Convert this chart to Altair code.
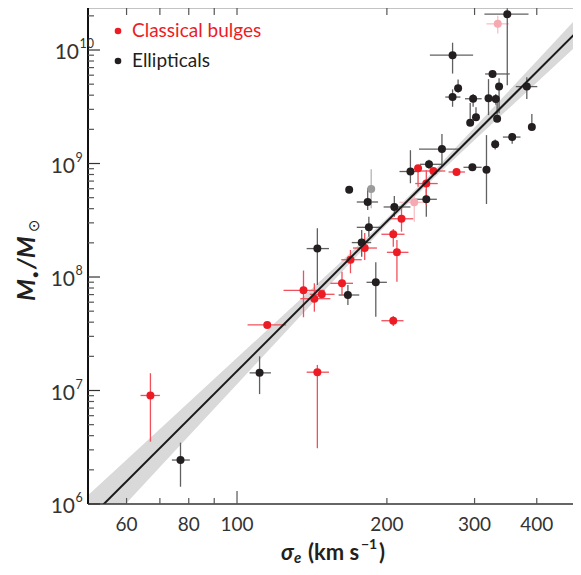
import math
import altair as alt
import pandas as pd

# ---------------- data ----------------
# group: B = classical bulge, E = elliptical, Bo / Eo = lighter (omitted) points
group = ["E", "E", "E", "E", "E", "E", "E", "E", "E", "E",
         "E", "E", "E", "E", "E", "E", "E", "E", "E", "E",
         "E", "E", "Eo", "E", "E", "E", "E", "E", "E", "E",
         "E", "E", "E",
         "Bo", "B", "B", "B", "B", "Bo", "B", "B", "B", "B",
         "B", "B", "B", "B", "B", "B", "B", "B", "B"]
sigma = [349, 271, 326, 278, 271, 298, 320, 331, 336, 382,
         302, 294, 333, 391, 357, 330, 258, 243, 297, 317,
         223, 168, 186, 183, 240, 207, 184, 178, 145, 167,
         190, 111, 77,
         334, 231, 248, 276, 240, 227, 214, 206, 209.5, 180.5,
         169, 162.5, 136, 143, 148, 206, 145, 115, 67]
sigma_lo = [314, 244, 315, 278, 262, 287, 320, 331, 336, 363,
            302, 294, 333, 391, 342, 325, 232, 233, 285, 317,
            212, 168, 186, 174, 228, 197, 174, 170, 138, 160,
            182, 106, 74,
            317, 231, 233, 266, 228, 212, 203, 195, 200, 171,
            162, 154, 124, 134, 140, 195, 138, 105, 64]
sigma_hi = [385, 298, 353, 278, 281, 310, 320, 331, 336, 401,
            302, 294, 333, 391, 371, 336, 280, 258, 310, 317,
            232, 168, 186, 192, 252, 223, 194, 186, 153, 176,
            200, 117, 80.4,
            352, 231, 262, 287, 253, 242, 226, 217, 221, 191,
            178, 171, 150, 154, 157, 216, 153, 125.5, 70]
mass = [2.07e10, 9.0e9, 6.15e9, 4.6e9, 3.85e9, 3.72e9, 3.75e9, 3.7e9, 4.76e9, 4.76e9,
        2.55e9, 2.29e9, 2.48e9, 2.10e9, 1.71e9, 1.48e9, 1.34e9, 9.84e8, 9.26e8, 8.82e8,
        8.5e8, 5.88e8, 5.96e8, 4.58e8, 4.84e8, 4.14e8, 2.74e8, 2.01e8, 1.78e8, 6.94e7,
        8.98e7, 1.43e7, 2.44e6,
        1.70e10, 9.07e8, 8.59e8, 8.42e8, 6.66e8, 4.55e8, 3.26e8, 2.38e8, 1.65e8, 1.80e8,
        1.42e8, 8.8e7, 7.63e7, 6.44e7, 7.04e7, 4.12e7, 1.45e7, 3.78e7, 9.04e6]
mass_lo = [4.9e9, 6.2e9, 6.15e9, 4.2e9, 3.16e9, 3.16e9, 2.67e9, 3.3e9, 2.77e9, 3.7e9,
           2.4e9, 2.2e9, 2.35e9, 2.0e9, 1.49e9, 1.33e9, 9.5e8, 9.0e8, 9.26e8, 4.4e8,
           6.7e8, 5.88e8, 4.03e8, 3.89e8, 3.4e8, 3.4e8, 2.26e8, 1.51e8, 8.5e7, 5.67e7,
           4.47e7, 9.3e6, 1.42e6,
           1.40e10, 6.25e8, 8.59e8, 8.42e8, 4.3e8, 3.07e8, 2.51e8, 1.85e8, 9.1e7, 1.41e8,
           1.08e8, 6.94e7, 4.42e7, 4.95e7, 7.04e7, 3.7e7, 3.1e6, 3.78e7, 3.54e6]
mass_hi = [3.2e10, 1.16e10, 6.15e9, 5.5e9, 4.5e9, 4.1e9, 5.54e9, 4.1e9, 5.63e9, 5.74e9,
           3.13e9, 3.41e9, 3.7e9, 2.73e9, 1.85e9, 1.63e9, 1.82e9, 1.08e9, 9.26e8, 1.78e9,
           1.31e9, 5.88e8, 8.9e8, 6.05e8, 5.93e8, 5.17e8, 3.4e8, 2.6e8, 2.69e8, 8.5e7,
           1.35e8, 2.0e7, 3.47e6,
           2.0e10, 9.07e8, 8.59e8, 8.42e8, 8.7e8, 5.46e8, 4.03e8, 2.65e8, 2.12e8, 2.44e8,
           1.73e8, 1.11e8, 1.14e8, 8.8e7, 7.04e7, 4.53e7, 1.68e7, 3.78e7, 1.42e7]

# fit: log M = fit_logM_200 + fit_slope * log(sigma/200)
fit_logM_200 = 8.49
fit_slope = 4.38
band_sigma = [50, 60, 75, 100, 130, 160, 200, 250, 300, 400, 491]
band_half_dex = [0.217, 0.190, 0.158, 0.116, 0.078, 0.050, 0.027, 0.033, 0.055, 0.095, 0.124]

legend_labels = ["Classical bulges", "Ellipticals"]

x_label_values = [60, 80, 100, 200, 300, 400]
x_label_text = ["60", "80", "100", "200", "300", "400"]
x_tick_long = [100]
x_tick_short = [60, 70, 80, 90, 200, 300, 400]
x_tick_top = [60, 70, 80, 90, 100, 200, 300, 400]
y_label_values = [1e6, 1e7, 1e8, 1e9, 1e10]
y_label_base = ["10", "10", "10", "10", "10"]
y_label_exp = ["6", "7", "8", "9", "10"]
y_minor_ticks = [k * 10 ** d for d in range(6, 10) for k in range(2, 10)] + [2e10]

# ---------------- styling ----------------
W, H = 493, 496
FONT = "Lato"
X_DOM = [50.2, 490.8]
Y_DOM = [1e6, 2.345e10]
xs = alt.Scale(type="log", domain=X_DOM)
ys = alt.Scale(type="log", domain=Y_DOM)
TXT = "#333333"

point_color = {"B": "#ed1c24", "E": "#231f20", "Bo": "#f6a9b0", "Eo": "#9b9b9b"}
bar_color = {"B": "#f0505c", "E": "#606060", "Bo": "#f8c0c6", "Eo": "#b5b5b5"}

pts = pd.DataFrame({
    "group": group, "sigma": sigma, "sigma_lo": sigma_lo, "sigma_hi": sigma_hi,
    "M": mass, "M_lo": mass_lo, "M_hi": mass_hi,
})
pts["pcolor"] = pts["group"].map(point_color)
pts["ecolor"] = pts["group"].map(bar_color)

line_df = pd.DataFrame({"sigma": X_DOM})
line_df["M"] = [10 ** (fit_logM_200 + fit_slope * math.log10(s / 200.0)) for s in X_DOM]

band_df = pd.DataFrame({"sigma": band_sigma, "h": band_half_dex})
band_df["c"] = [fit_logM_200 + fit_slope * math.log10(s / 200.0) for s in band_sigma]
band_df["lo"] = 10 ** (band_df["c"] - band_df["h"])
band_df["hi"] = 10 ** (band_df["c"] + band_df["h"])

X = lambda f: alt.X(f, scale=xs, axis=None)
Y = lambda f: alt.Y(f, scale=ys, axis=None)

band = alt.Chart(band_df).mark_area(color="#d9d9d9", clip=True).encode(
    x=X("sigma:Q"), y=Y("lo:Q"), y2="hi:Q")

xerr = alt.Chart(pts).mark_rule(strokeWidth=1.3, clip=True).encode(
    x=X("sigma_lo:Q"), x2="sigma_hi:Q", y=Y("M:Q"),
    color=alt.Color("ecolor:N", scale=None))
yerr = alt.Chart(pts).mark_rule(strokeWidth=1.3, clip=True).encode(
    x=X("sigma:Q"), y=Y("M_lo:Q"), y2="M_hi:Q",
    color=alt.Color("ecolor:N", scale=None))
points = alt.Chart(pts).mark_circle(size=64, opacity=1, clip=True).encode(
    x=X("sigma:Q"), y=Y("M:Q"), color=alt.Color("pcolor:N", scale=None))
fit_line = alt.Chart(line_df).mark_line(color="#1a1a1a", strokeWidth=2, clip=True).encode(
    x=X("sigma:Q"), y=Y("M:Q"))

TICK = "#555555"
def xticks(vals, y0, y1):
    return alt.Chart(pd.DataFrame({"v": vals})).mark_rule(color=TICK, strokeWidth=1.2).encode(
        x=X("v:Q"), y=alt.value(y0), y2=alt.value(y1))

def yticks(vals, x0, x1, color=TICK):
    return alt.Chart(pd.DataFrame({"v": vals})).mark_rule(color=color, strokeWidth=1.2).encode(
        y=Y("v:Q"), x=alt.value(x0), x2=alt.value(x1))

one = pd.DataFrame({"a": [0]})
frame = [
    alt.Chart(one).mark_rule(color="#888888", strokeWidth=1.2).encode(
        x=alt.value(0), x2=alt.value(W), y=alt.value(0)),
    alt.Chart(one).mark_rule(color="#333333", strokeWidth=1.6).encode(
        x=alt.value(0), x2=alt.value(W), y=alt.value(H)),
    alt.Chart(one).mark_rule(color="#111111", strokeWidth=2).encode(
        x=alt.value(0), y=alt.value(0), y2=alt.value(H)),
]

ticks = [
    xticks(x_tick_long, H, H - 13),
    xticks(x_tick_short, H, H - 6),
    xticks(x_tick_top, 0, 7),
    yticks(y_label_values, 0, 12, "#333333"),
    yticks(y_minor_ticks, 0, 6),
    yticks(y_label_values, W - 8, W, "#777777"),
    yticks(y_minor_ticks, W - 6, W, "#888888"),
]

# axis labels as text
xl_df = pd.DataFrame({"v": x_label_values, "t": x_label_text})
x_labels = alt.Chart(xl_df).mark_text(font=FONT, fontSize=19, color=TXT, baseline="middle",
                                      align="center").encode(
    x=X("v:Q"), y=alt.value(H + 21), text="t:N")

yl_df = pd.DataFrame({"v": y_label_values, "b": y_label_base, "e": y_label_exp})
yl_single = yl_df[yl_df["e"].str.len() == 1]
yl_double = yl_df[yl_df["e"].str.len() == 2]
def ylab(df, xr):
    base = alt.Chart(df).mark_text(font=FONT, fontSize=21, color=TXT, align="right",
                                   baseline="middle", dy=3).encode(
        y=Y("v:Q"), x=alt.value(xr), text="b:N")
    exp = alt.Chart(df).mark_text(font=FONT, fontSize=12.5, color=TXT, align="left",
                                  baseline="middle", dy=-6).encode(
        y=Y("v:Q"), x=alt.value(xr + 0.5), text="e:N")
    return [base, exp]
y_labels = ylab(yl_single, -13) + ylab(yl_double, -9)

# axis titles as text
t_bold = dict(font=FONT, fontWeight="bold", color="#231f20")
TB = H + 56
x_title = [
    alt.Chart(one).mark_text(text="σ", fontSize=22, fontStyle="italic", align="left",
                             baseline="alphabetic", **t_bold).encode(
        x=alt.value(193), y=alt.value(TB)),
    alt.Chart(one).mark_text(text="e", fontSize=15, fontStyle="italic", align="left",
                             baseline="alphabetic", **t_bold).encode(
        x=alt.value(206), y=alt.value(TB + 3)),
    alt.Chart(one).mark_text(text="(km s", fontSize=22, align="left",
                             baseline="alphabetic", **t_bold).encode(
        x=alt.value(220), y=alt.value(TB)),
    alt.Chart(one).mark_text(text="−1", fontSize=14, align="left",
                             baseline="alphabetic", **t_bold).encode(
        x=alt.value(273), y=alt.value(TB - 11)),
    alt.Chart(one).mark_text(text=")", fontSize=22, align="left",
                             baseline="alphabetic", **t_bold).encode(
        x=alt.value(291), y=alt.value(TB)),
]
YT = -53
y_title = [
    alt.Chart(one).mark_text(text="M", fontSize=25, fontStyle="italic", angle=270,
                             align="left", baseline="alphabetic", **t_bold).encode(
        x=alt.value(YT), y=alt.value(293)),
    alt.Chart(one).mark_text(text="●", fontSize=10, angle=270,
                             align="left", baseline="alphabetic", **t_bold).encode(
        x=alt.value(YT + 4), y=alt.value(270)),
    alt.Chart(one).mark_text(text="/M", fontSize=25, fontStyle="italic", angle=270,
                             align="left", baseline="alphabetic", **t_bold).encode(
        x=alt.value(YT), y=alt.value(261)),
    alt.Chart(one).mark_text(text="⊙", fontSize=15, angle=270, font="DejaVu Sans",
                             align="left", baseline="alphabetic", color="#231f20").encode(
        x=alt.value(YT + 4), y=alt.value(224)),
]

leg_df = pd.DataFrame({"label": legend_labels, "c": ["#ed1c24", "#231f20"], "yy": [23, 53]})
leg_pts = alt.Chart(leg_df).mark_circle(size=44, opacity=1).encode(
    x=alt.value(30), y=alt.Y("yy:Q", scale=None, axis=None), color=alt.Color("c:N", scale=None))
leg_txt = alt.Chart(leg_df).mark_text(align="left", baseline="middle", font=FONT, fontSize=19).encode(
    x=alt.value(44), y=alt.Y("yy:Q", scale=None, axis=None), text="label:N",
    color=alt.Color("c:N", scale=None))

chart = alt.layer(band, xerr, yerr, points, fit_line, *frame, *ticks, x_labels, *y_labels,
                  *x_title, *y_title, leg_pts, leg_txt).properties(
    width=W, height=H,
    autosize=alt.AutoSizeParams(type="none"),
    padding={"left": 80, "top": 0, "right": -8, "bottom": 63},
    background="white",
).configure_view(stroke=None)

chart.save("out.html", embed_options={"renderer": "svg", "actions": False})
